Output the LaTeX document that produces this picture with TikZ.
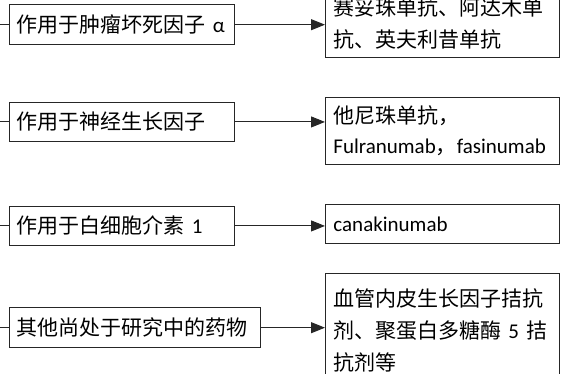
\documentclass[tikz,border=0pt]{standalone}
\usepackage{fontspec}
\setmainfont{Noto Sans CJK SC}
\newfontfamily\lat{Carlito}
\usetikzlibrary{arrows.meta}
\begin{document}
\begin{tikzpicture}[x=1pt,y=-1pt,
  box/.style={draw=black!85, line width=0.9pt, anchor=north west, inner xsep=8pt, inner ysep=0pt,
    align=left, font=\fontsize{21}{32}\selectfont},
  lbox/.style={box, text width=#1-16pt, minimum width=#1},
  rbox/.style={box, text width=218pt, minimum width=234pt},
  conn/.style={line width=0.9pt, draw=black!85, -{Triangle[length=14pt,width=11pt]}},
  stub/.style={line width=0.9pt, draw=black!85}]
\useasboundingbox (0,0) rectangle (563,374);
\clip (0,0) rectangle (563,374);
\coordinate (O) at (-2,0);

\node[lbox=225pt, minimum height=39.5pt] (L1) at (8.5,4.5) {作用于肿瘤坏死因子~{\lat α}};
\node[lbox=225pt, minimum height=39pt] (L2) at (8.5,102) {作用于神经生长因子};
\node[lbox=225pt, minimum height=39pt] (L3) at (8.5,206) {作用于白细胞介素~{\lat 1}};
\node[lbox=251pt, minimum height=39.5pt] (L4) at (8.5,307.5) {其他尚处于研究中的药物};

\node[rbox, minimum height=67pt] (R1) at (325,-10) {赛妥珠单抗、阿达木单\\抗、英夫利昔单抗};
\node[rbox, minimum height=67pt, font=\fontsize{21}{30}\selectfont] (R2) at (325,97) {他尼珠单抗，\\{\lat Fulranumab}，{\lat fasinumab}};
\node[rbox, minimum height=39pt] (R3) at (325,204) {{\lat canakinumab}};
\node[rbox, minimum height=113pt] (R4) at (325,273.5) {血管内皮生长因子拮抗\\剂、聚蛋白多糖酶~{\lat 5}~拮\\抗剂等};

\foreach \i in {1,2,3,4}{
  \draw[conn] (L\i.east) -- (L\i.east -| R\i.west);
  \draw[stub] (L\i.west) -- (L\i.west -| O);
}
\end{tikzpicture}
\end{document}
